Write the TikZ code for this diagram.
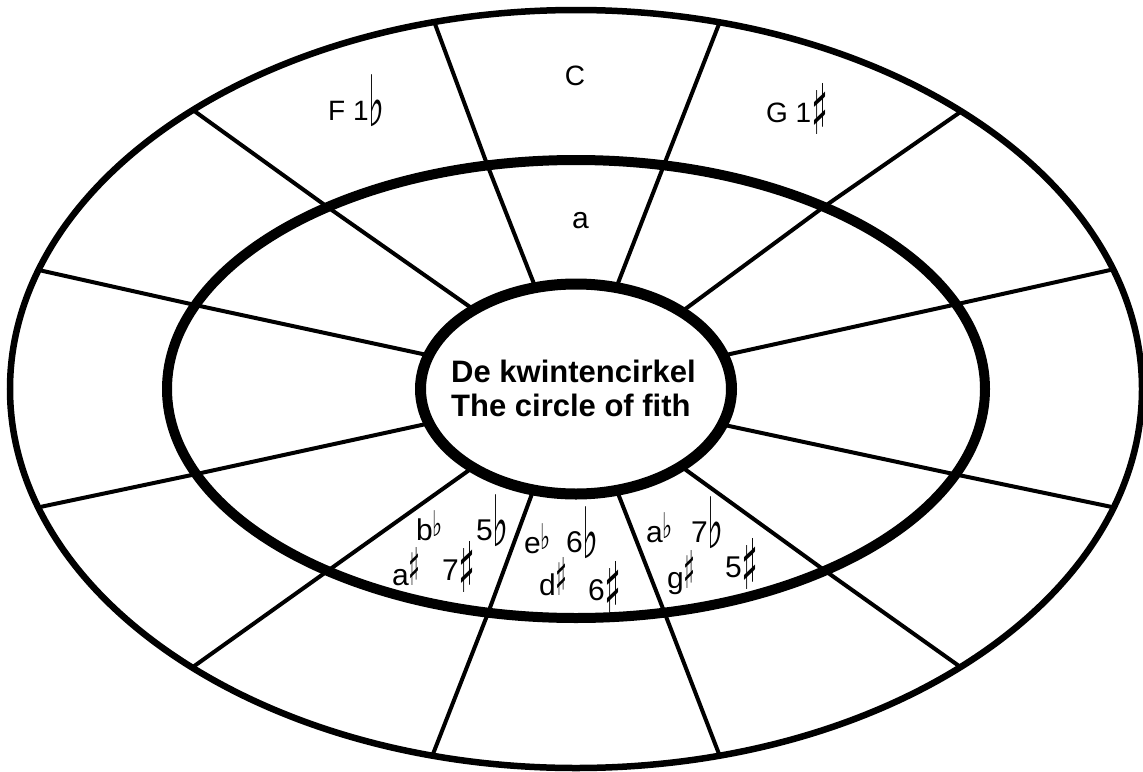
\documentclass[tikz,border=0pt]{standalone}
\usepackage{graphicx}
\usepackage{fontspec}
\setmainfont{Liberation Sans}
\newfontfamily\musicfont{DejaVu Sans}
\usetikzlibrary{calc}

% flats and sharps, sized to the picture
\newcommand{\bigflat}{\raisebox{-6pt}{\resizebox*{16pt}{52pt}{\musicfont ♭}}}
\newcommand{\bigsharp}{\raisebox{-12pt}{\resizebox*{17pt}{51pt}{\musicfont ♯}}}
\newcommand{\smallflat}{\raisebox{4pt}{\resizebox*{10pt}{26pt}{\musicfont ♭}}}
\newcommand{\smallsharp}{\raisebox{0pt}{\resizebox*{12pt}{38pt}{\musicfont ♯}}}

\tikzset{
  ring/.style={line width=#1},
  spoke/.style={line width=4},
  keylbl/.style={font=\fontsize{28}{30}\selectfont, inner sep=0},
  notelbl/.style={font=\fontsize{30}{32}\selectfont, inner sep=0},
  titlelbl/.style={font=\fontsize{31}{34}\selectfont\bfseries, inner sep=0, align=left}
}

\begin{document}
\begin{tikzpicture}[x=1pt,y=-1pt]
	\useasboundingbox (0,0) rectangle (1143,771);

	\begin{scope}[shift={(576,389)}]
	 % spokes: inner / middle / outer angle
	 \foreach \i/\m/\o in {-75/-77.6/-75.3, -105.1/-102.5/-104.5, -131/-127.4/-132.6,
	   -161.3/-158.5/-161.7, 160.9/158.2/161.8, 131.6/127.4/132.7, 105.9/102.4/104.7,
	   74.8/77.5/75.3, 47.5/52.5/47.2, 19.8/21.9/18.2, -18.6/-21.7/-18.4, -47.3/-52.7/-47.1} {
	  \draw[spoke] (\i:155.5 and 105) -- (\m:409 and 229) -- (\o:566 and 379);
	 }
	 % rings
	 \draw[ring=6.5] (0,0) ellipse [x radius=566, y radius=379];
	 \draw[ring=10] (0,0) ellipse [x radius=409, y radius=229];
	 \draw[ring=11] (0,0) ellipse [x radius=155.5, y radius=105];
	\end{scope}

	% title
	\node[titlelbl, anchor=west] (title) at (451,388) {De kwintencirkel\\The circle of fith};

	% keys
	\node[keylbl, anchor=base] (keyC) at (575,85) {C};
	\node[keylbl, anchor=base west] (keyF) at (328,120) {F 1\bigflat};
	\node[keylbl, anchor=base west] (keyG) at (766,122) {G 1\bigsharp};
	\node[notelbl, anchor=base west] (minA) at (572,228) {a};

	% bottom
	\node[notelbl, anchor=base west] (bflat) at (416,540) {b\smallflat};
	\node[notelbl, anchor=base west] (fiveflat) at (476,540) {5\bigflat};
	\node[notelbl, anchor=base west] (asharp) at (392,585) {a\smallsharp};
	\node[notelbl, anchor=base west] (sevensharp) at (442,580) {7\bigsharp};
	\node[notelbl, anchor=base west] (eflat) at (524,553) {e\smallflat};
	\node[notelbl, anchor=base west] (sixflat) at (566,552) {6\bigflat};
	\node[notelbl, anchor=base west] (dsharp) at (539,595) {d\smallsharp};
	\node[notelbl, anchor=base west] (sixsharp) at (588,600) {6\bigsharp};
	\node[notelbl, anchor=base west] (aflat) at (646,542) {a\smallflat};
	\node[notelbl, anchor=base west] (sevenflat) at (691,542) {7\bigflat};
	\node[notelbl, anchor=base west] (gsharp) at (667,588) {g\smallsharp};
	\node[notelbl, anchor=base west] (fivesharp) at (725,577) {5\bigsharp};
\end{tikzpicture}
\end{document}
